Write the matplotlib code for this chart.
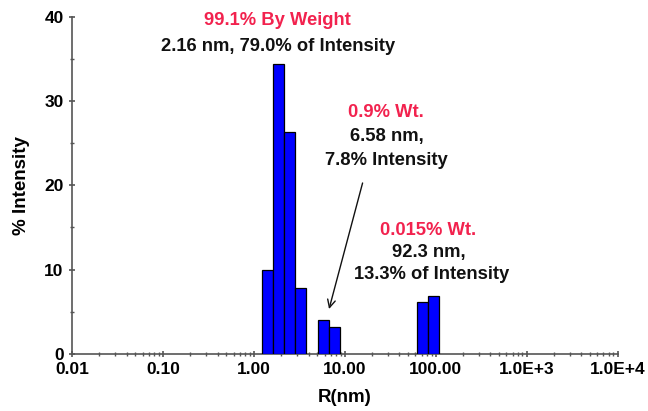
import numpy as np
import matplotlib
matplotlib.use("Agg")
import matplotlib.pyplot as plt
from matplotlib.ticker import FixedLocator, LogLocator, NullFormatter, MultipleLocator

plt.rcParams['font.family'] = ['Liberation Sans', 'DejaVu Sans']
plt.rcParams['font.weight'] = 'bold'

# size distribution (bin centres in nm, % intensity)
radius_nm = [1.41, 1.88, 2.49, 3.29, 5.84, 7.79, 71.1, 94.4]
intensity = [10.0, 34.4, 26.3, 7.8, 4.0, 3.2, 6.1, 6.9]
bin_width_log = 0.123  # bin width in decades

x_ticks = [0.01, 0.1, 1, 10, 100, 1000, 10000]
x_ticklabels = ['0.01', '0.10', '1.00', '10.00', '100.00', '1.0E+3', '1.0E+4']

red = '#F2224E'

fig = plt.figure(figsize=(6.48, 4.11), dpi=100)
ax = fig.add_axes([0.111, 0.139, 0.842, 0.82])

centers = np.array(radius_nm)
left = centers / 10 ** (bin_width_log / 2)
right = centers * 10 ** (bin_width_log / 2)
ax.bar(left, intensity, width=right - left, align='edge',
       color='#0000FF', edgecolor='black', linewidth=0.9, zorder=3)

ax.set_xscale('log')
ax.set_xlim(0.01, 10000)
ax.set_ylim(0, 40)
ax.xaxis.set_major_locator(FixedLocator(x_ticks))
ax.set_xticklabels(x_ticklabels)
ax.xaxis.set_minor_locator(LogLocator(base=10, subs=np.arange(2, 10)))
ax.xaxis.set_minor_formatter(NullFormatter())
ax.yaxis.set_major_locator(MultipleLocator(10))
ax.yaxis.set_minor_locator(MultipleLocator(5))

for s in ['top', 'right']:
    ax.spines[s].set_visible(False)
for s in ['left', 'bottom']:
    ax.spines[s].set_color('#555555')
    ax.spines[s].set_linewidth(1.2)

ax.tick_params(axis='both', which='major', direction='inout', length=5,
               width=1.2, color='#555555', labelsize=12.5)
ax.tick_params(axis='both', which='minor', direction='inout', length=3,
               width=1.0, color='#555555')
ax.tick_params(axis='x', which='major', pad=3)
for lab in ax.get_xticklabels() + ax.get_yticklabels():
    lab.set_fontweight('bold')

ax.set_xlabel('R(nm)', fontsize=13.5, fontweight='bold', labelpad=9)
ax.set_ylabel('% Intensity', fontsize=13.5, fontweight='bold', labelpad=10)

# annotations
fs = 13.2
ax.text(1.81, 39.6, '99.1% By Weight', color=red, fontsize=fs,
        fontweight='bold', ha='center', va='center')
ax.text(1.85, 36.5, '2.16 nm, 79.0% of Intensity', color='#111111',
        fontsize=fs, fontweight='bold', ha='center', va='center')

ax.text(28.0, 28.6, '0.9% Wt.', color=red, fontsize=fs,
        fontweight='bold', ha='center', va='center')
ax.text(29.0, 25.8, '6.58 nm,', color='#111111', fontsize=fs,
        fontweight='bold', ha='center', va='center')
ax.text(28.5, 23.0, '7.8% Intensity', color='#111111', fontsize=fs,
        fontweight='bold', ha='center', va='center')

ax.text(83.2, 14.7, '0.015% Wt.', color=red, fontsize=fs,
        fontweight='bold', ha='center', va='center')
ax.text(83.2, 12.0, '92.3 nm,', color='#111111', fontsize=fs,
        fontweight='bold', ha='center', va='center')
ax.text(89.6, 9.4, '13.3% of Intensity', color='#111111', fontsize=fs,
        fontweight='bold', ha='center', va='center')

ax.annotate('', xy=(6.6, 5.0), xytext=(16.0, 20.6),
            arrowprops=dict(arrowstyle='->', color='#111111', lw=1.0,
                            mutation_scale=14))

fig.savefig('out.png', dpi=100)
